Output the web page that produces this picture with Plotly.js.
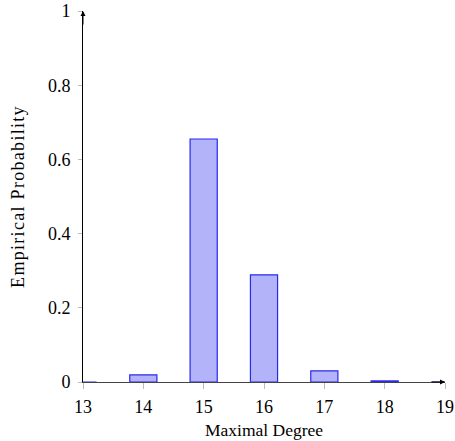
<!DOCTYPE html>
<html><head><meta charset="utf-8">
<script src="https://cdn.plot.ly/plotly-3.0.1.min.js"></script>
<style>html,body{margin:0;padding:0;background:#fff}
.ytitle{letter-spacing:1.3px}</style>
</head><body>
<div id="chart" style="width:455px;height:441px"></div>
<script>
const degrees = [13, 14, 15, 16, 17, 18, 19];
const probabilities = [0, 0.019, 0.655, 0.289, 0.03, 0.003, 0];
const xTicks = [13, 14, 15, 16, 17, 18, 19];
const yTicks = [0, 0.2, 0.4, 0.6, 0.8, 1];
const yTickLabels = ['0', '0.2', '0.4', '0.6', '0.8', '1'];

const font = 'Liberation Serif, DejaVu Serif, serif';
const data = [{
  type: 'bar', x: degrees, y: probabilities, width: 0.45,
  marker: {color: 'rgb(179,179,250)', line: {color: 'rgb(40,40,240)', width: 1.2}},
  cliponaxis: true, hoverinfo: 'none'
}];
const layout = {
  width: 455, height: 441,
  margin: {l: 83, r: 10, t: 11, b: 59},
  paper_bgcolor: '#fff', plot_bgcolor: '#fff',
  showlegend: false,
  font: {family: font, size: 18, color: '#000'},
  xaxis: {range: [13, 19], tickvals: xTicks, ticktext: xTicks.map(String),
    showgrid: false, zeroline: false, showline: true, linecolor: '#444', linewidth: 1,
    ticks: 'outside', ticklen: 6, tickcolor: '#bbb', tickwidth: 1,
    ticklabelstandoff: 2,
    tickfont: {family: font, size: 18},
    title: {text: 'Maximal Degree', font: {family: font, size: 17.5}, standoff: 8}},
  yaxis: {range: [0, 1], tickvals: yTicks, ticktext: yTickLabels,
    showgrid: false, zeroline: false, showline: true, linecolor: '#000', linewidth: 1,
    ticks: 'outside', ticklen: 4, tickcolor: '#bbb', tickwidth: 1,
    ticklabelstandoff: 4,
    tickfont: {family: font, size: 18},
    title: {text: 'Empirical Probability', font: {family: font, size: 18}, standoff: 18}},
  annotations: [
    {xref: 'paper', yref: 'paper', x: 1, y: 0, ax: -15, ay: 0, text: '', showarrow: true,
     arrowhead: 2, arrowsize: 1, arrowwidth: 1, arrowcolor: '#000'},
    {xref: 'paper', yref: 'paper', x: 0, y: 1, ax: 0, ay: 15, text: '', showarrow: true,
     arrowhead: 2, arrowsize: 1, arrowwidth: 1, arrowcolor: '#000'}
  ]
};
Plotly.newPlot('chart', data, layout, {displayModeBar: false, staticPlot: true});
</script>
</body></html>
